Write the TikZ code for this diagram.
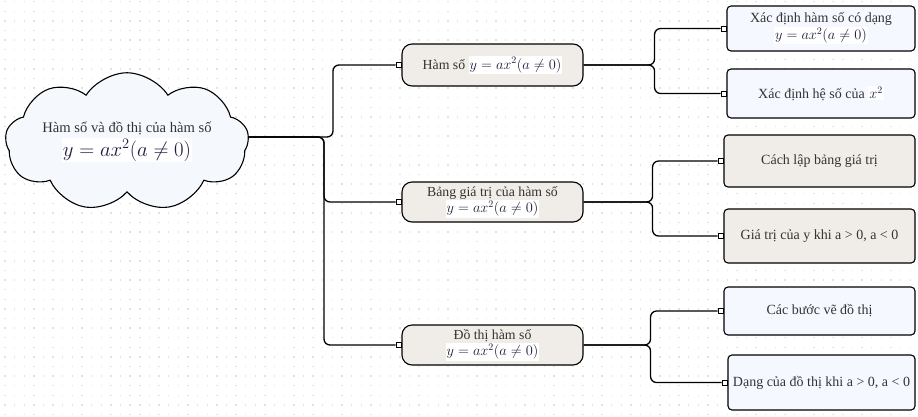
\documentclass[tikz,border=0pt]{standalone}
\usepackage{fontspec}
\setmainfont{Liberation Serif}
\usetikzlibrary{shapes.symbols,calc}
\definecolor{txt}{HTML}{333333}
\definecolor{mathc}{HTML}{1E1E3C}
\definecolor{beige}{HTML}{F0EDE8}
\definecolor{bluef}{HTML}{F5F9FF}
\definecolor{cloudf}{HTML}{F5F9FE}
\definecolor{dotc}{HTML}{E2E2E2}
\setlength{\fboxsep}{1pt}
\newcommand{\mymath}[2]{{\fontsize{#1}{#1}\selectfont\colorbox{white}{\color{mathc}$#2$}}}
\pgfdeclarelayer{bg}
\pgfdeclarelayer{mid}
\pgfsetlayers{bg,mid,main}
\begin{document}
\begin{tikzpicture}[x=1pt,y=-1pt,
  lvtwo/.style={draw, line width=1.1pt, rounded corners=10pt, fill=beige, minimum width=181pt, align=center, text=txt, inner sep=1pt, font=\fontsize{13.8}{16.5}\selectfont},
  lvthree/.style={draw, line width=1.1pt, rounded corners=4pt, minimum width=188pt, align=center, text=txt, inner sep=1pt, font=\fontsize{14}{17}\selectfont},
  sq/.style={draw, fill=white, minimum size=5pt, inner sep=0pt, line width=0.8pt},
  conn/.style={draw, line width=1.3pt, rounded corners=6pt}
]
\useasboundingbox (0,0) rectangle (918,416);
\begin{pgfonlayer}{bg}
  \fill[white] (0,0) rectangle (918,416);
  \foreach \i in {0,...,95}{
    \foreach \j in {0,...,43}{
      \fill[dotc] ({5+9.63*\i-0.7},{1.7+9.6*\j-0.7}) rectangle ++(1.4,1.4);
    }
  }
\end{pgfonlayer}

% central cloud
\node[cloud, cloud puffs=9, cloud puff arc=115, aspect=2.4, draw, line width=1.1pt, fill=cloudf,
  minimum width=243pt, minimum height=110pt, inner sep=0pt, align=center, text=txt,
  font=\fontsize{14.6}{24}\selectfont] (cloud) at (127,142)
  {Hàm số và đồ thị của hàm số\\ \mymath{20.74}{y=ax^2(a\neq 0)}};
\coordinate (c0) at (200,137);

% level 2
\node[lvtwo, minimum height=42pt] (n1) at (492.5,65) {Hàm số \mymath{14.4}{y=ax^2(a\neq 0)}};
\node[lvtwo, minimum height=40pt] (n2) at (492.5,202) {Bảng giá trị của hàm số\\ \mymath{14.4}{y=ax^2(a\neq 0)}};
\node[lvtwo, minimum height=40pt] (n3) at (492.5,345) {Đồ thị hàm số\\ \mymath{14.4}{y=ax^2(a\neq 0)}};

% level 3
\node[lvthree, fill=bluef, minimum height=45pt] (a1) at (821,28.5) {Xác định hàm số có dạng\\ \mymath{14.4}{y=ax^2(a\neq 0)}};
\node[lvthree, fill=bluef, minimum height=49pt] (a2) at (821,93.5) {Xác định hệ số của \mymath{14.4}{x^2}};
\node[lvthree, fill=beige, minimum width=191pt, minimum height=52pt] (b1) at (819.5,161) {Cách lập bảng giá trị};
\node[lvthree, fill=beige, minimum width=191pt, minimum height=54pt] (b2) at (819.5,236) {Giá trị của y khi a > 0, a < 0};
\node[lvthree, fill=bluef, minimum width=191pt, minimum height=48pt] (c1) at (819.5,311) {Các bước vẽ đồ thị};
\node[lvthree, fill=bluef, minimum width=187pt, minimum height=55pt] (c2) at (821.5,382.5) {Dạng của đồ thị khi a > 0, a < 0};

% connection squares
\node[sq] (s1) at ($(n1.west)+(-3,0)$) {};
\node[sq] (s2) at ($(n2.west)+(-3,0)$) {};
\node[sq] (s3) at ($(n3.west)+(-3,0)$) {};
\node[sq] (sa1) at ($(a1.west)+(-3,0)$) {};
\node[sq] (sa2) at ($(a2.west)+(-3,0)$) {};
\node[sq] (sb1) at ($(b1.west)+(-3,0)$) {};
\node[sq] (sb2) at ($(b2.west)+(-3,0)$) {};
\node[sq] (sc1) at ($(c1.west)+(-3,0)$) {};
\node[sq] (sc2) at ($(c2.west)+(-3,0)$) {};

\begin{pgfonlayer}{mid}
  \draw[conn] (c0) -- ++(133,0) |- (s1);
  \draw[conn] (c0) -- ++(124,0) |- (s2);
  \draw[conn] (c0) -- ++(124,0) |- (s3);
  \draw[conn] (n1.east) -- ++(71,0) |- (sa1);
  \draw[conn] (n1.east) -- ++(71,0) |- (sa2);
  \draw[conn] (n2.east) -- ++(69,0) |- (sb1);
  \draw[conn] (n2.east) -- ++(69,0) |- (sb2);
  \draw[conn] (n3.east) -- ++(67,0) |- (sc1);
  \draw[conn] (n3.east) -- ++(67,0) |- (sc2);
\end{pgfonlayer}
\end{tikzpicture}
\end{document}
